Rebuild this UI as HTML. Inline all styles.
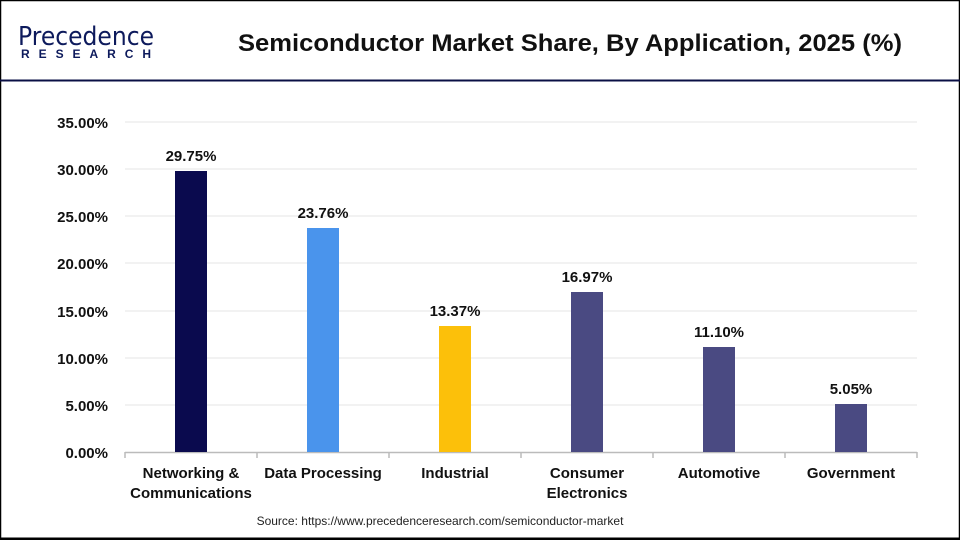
<!DOCTYPE html>
<html><head><style>
body{margin:0;width:960px;height:540px;overflow:hidden;background:#fff;font-family:"Liberation Sans",sans-serif}
</style></head><body>
<svg width="960" height="540" xmlns="http://www.w3.org/2000/svg" font-family="Liberation Sans, sans-serif">
<rect x="0.5" y="0.5" width="959" height="539" fill="#fff" stroke="#000" stroke-width="1.5"/>
<line x1="0" y1="80.5" x2="960" y2="80.5" stroke="#0a0f45" stroke-width="2"/>
<line x1="0" y1="538.5" x2="960" y2="538.5" stroke="#000" stroke-width="2"/>
<text x="18" y="45" font-size="26" fill="#0d1a5c" font-family="DejaVu Sans, sans-serif" textLength="136" lengthAdjust="spacingAndGlyphs">Precedence</text>
<text x="21" y="58" font-size="12" fill="#0d1a5c" font-weight="bold" textLength="130" lengthAdjust="spacing">RESEARCH</text>
<text x="238" y="51" font-size="24" font-weight="bold" fill="#111" textLength="664" lengthAdjust="spacingAndGlyphs">Semiconductor Market Share, By Application, 2025 (%)</text>
<g stroke="#e6e6e6" stroke-width="1">
<line x1="125" y1="122" x2="917" y2="122"/><line x1="125" y1="169" x2="917" y2="169"/>
<line x1="125" y1="216" x2="917" y2="216"/><line x1="125" y1="263" x2="917" y2="263"/>
<line x1="125" y1="311" x2="917" y2="311"/><line x1="125" y1="358" x2="917" y2="358"/>
<line x1="125" y1="405" x2="917" y2="405"/>
</g>
<g font-size="15" font-weight="bold" fill="#111" text-anchor="end">
<text x="108" y="128">35.00%</text><text x="108" y="175">30.00%</text><text x="108" y="222">25.00%</text>
<text x="108" y="269">20.00%</text><text x="108" y="317">15.00%</text><text x="108" y="364">10.00%</text>
<text x="108" y="411">5.00%</text><text x="108" y="458">0.00%</text>
</g>
<line x1="125" y1="452.5" x2="917" y2="452.5" stroke="#bbb" stroke-width="1.5"/>
<g stroke="#bbb" stroke-width="1.5">
<line x1="125" y1="452" x2="125" y2="458"/><line x1="257" y1="452" x2="257" y2="458"/><line x1="389" y1="452" x2="389" y2="458"/>
<line x1="521" y1="452" x2="521" y2="458"/><line x1="653" y1="452" x2="653" y2="458"/><line x1="785" y1="452" x2="785" y2="458"/><line x1="917" y1="452" x2="917" y2="458"/>
</g>
<rect x="175" y="171" width="32" height="281" fill="#0a0a4e"/>
<rect x="307" y="228" width="32" height="224" fill="#4a94ec"/>
<rect x="439" y="326" width="32" height="126" fill="#fcc00a"/>
<rect x="571" y="292" width="32" height="160" fill="#4a4a82"/>
<rect x="703" y="347" width="32" height="105" fill="#4a4a82"/>
<rect x="835" y="404" width="32" height="48" fill="#4a4a82"/>
<g font-size="15" font-weight="bold" fill="#111" text-anchor="middle">
<text x="191" y="161">29.75%</text><text x="323" y="218">23.76%</text><text x="455" y="316">13.37%</text>
<text x="587" y="282">16.97%</text><text x="719" y="337">11.10%</text><text x="851" y="394">5.05%</text>
</g>
<g font-size="15" font-weight="bold" fill="#111" text-anchor="middle">
<text x="191" y="478">Networking &amp;</text><text x="191" y="498">Communications</text>
<text x="323" y="478">Data Processing</text><text x="455" y="478">Industrial</text>
<text x="587" y="478">Consumer</text><text x="587" y="498">Electronics</text>
<text x="719" y="478">Automotive</text><text x="851" y="478">Government</text>
</g>
<text x="440" y="525" font-size="12" fill="#222" text-anchor="middle">Source: https://www.precedenceresearch.com/semiconductor-market</text>
</svg>
</body></html>
